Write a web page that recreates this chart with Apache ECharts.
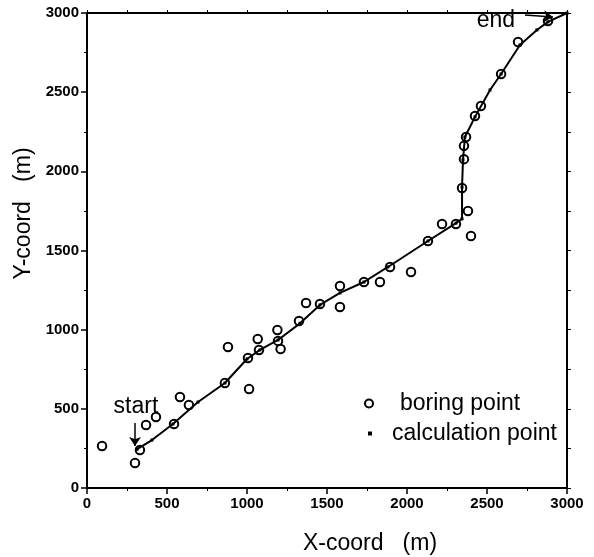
<!DOCTYPE html>
<html>
<head>
<meta charset="utf-8">
<script src="https://cdn.jsdelivr.net/npm/echarts@6/dist/echarts.min.js"></script>
<style>html,body{margin:0;padding:0;background:#fff}#c{width:594px;height:557px}</style>
</head>
<body>
<div id="c"></div>
<script>
// boring points (X, Y in metres)
const boringX = [94, 300, 331, 369, 431, 544, 581, 637, 862, 881, 1006, 1013, 1067, 1075, 1190, 1194, 1210, 1325, 1369, 1456, 1581, 1581, 1731, 1831, 1894, 2025, 2131, 2219, 2306, 2400, 2381, 2344, 2356, 2356, 2369, 2425, 2462, 2588, 2694, 2881];
const boringY = [265, 158, 240, 398, 448, 404, 575, 524, 663, 891, 821, 625, 941, 872, 998, 929, 878, 1055, 1168, 1162, 1276, 1143, 1301, 1301, 1396, 1364, 1560, 1667, 1667, 1592, 1750, 1895, 2077, 2161, 2217, 2350, 2413, 2615, 2817, 2950];
// calculation points (trajectory)
const calcX = [313, 406, 537, 694, 862, 1000, 1081, 1194, 1331, 1456, 1581, 1731, 1881, 2131, 2306, 2344, 2344, 2350, 2362, 2425, 2519, 2588, 2706, 2812, 2881, 3000];
const calcY = [245, 303, 404, 543, 663, 815, 872, 935, 1040, 1156, 1232, 1301, 1396, 1560, 1673, 1700, 1900, 2072, 2217, 2344, 2514, 2615, 2798, 2893, 2944, 3000];
// annotations
const noteText = ['start', 'end'];
const noteX = [306, 2556];
const noteY = [515, 2950];
const arrowFrom = [[300, 410], [2737, 2987]];
const arrowTo = [[300, 265], [2912, 2975]];

const FONT = 'Liberation Sans, Arial, Helvetica, sans-serif';
const chart = echarts.init(document.getElementById('c'));
const axisLine = {show: true, onZero: false, lineStyle: {color: '#000', width: 2}};
const labelStyle = {color: '#000', fontFamily: FONT, fontWeight: 'bold', fontSize: 15, formatter: v => String(v)};

chart.setOption({
  animation: false,
  backgroundColor: '#fff',
  grid: {left: 87, right: 27, top: 13, bottom: 69, containLabel: false, outerBoundsMode: 'none'},
  xAxis: [{
    type: 'value', min: 0, max: 3000, interval: 500, position: 'bottom',
    name: 'X-coord   (m)', nameLocation: 'middle', nameGap: 44,
    nameTextStyle: {color: '#000', fontFamily: FONT, fontSize: 23, padding: [0, 0, 0, 86]},
    axisLine: axisLine,
    axisTick: {show: true, inside: false, length: 6, lineStyle: {color: '#000', width: 1.5}},
    minorTick: {show: true, splitNumber: 2, length: 3, lineStyle: {color: '#000', width: 1}},
    axisLabel: Object.assign({margin: 8}, labelStyle),
    splitLine: {show: false}
  }, {
    type: 'value', min: 0, max: 3000, interval: 250, position: 'top',
    axisLine: axisLine,
    axisTick: {show: true, length: 3, lineStyle: {color: '#000', width: 1}},
    axisLabel: {show: false}, splitLine: {show: false}
  }],
  yAxis: [{
    type: 'value', min: 0, max: 3000, interval: 500, position: 'left',
    name: 'Y-coord   (m)', nameLocation: 'middle', nameGap: 42,
    nameTextStyle: {color: '#000', fontFamily: FONT, fontSize: 23, padding: [0, 0, 0, 74]},
    axisLine: axisLine,
    axisTick: {show: true, length: 6, lineStyle: {color: '#000', width: 1.5}},
    minorTick: {show: true, splitNumber: 2, length: 3, lineStyle: {color: '#000', width: 1}},
    axisLabel: Object.assign({margin: 8}, labelStyle),
    splitLine: {show: false}
  }, {
    type: 'value', min: 0, max: 3000, interval: 250, position: 'right',
    axisLine: axisLine,
    axisTick: {show: true, length: 4, lineStyle: {color: '#000', width: 1}},
    axisLabel: {show: false}, splitLine: {show: false}
  }],
  legend: [{
    data: [{name: 'boring point', icon: 'circle'}],
    left: 359, top: 387, itemWidth: 8, itemHeight: 8,
    itemStyle: {color: '#fff', borderColor: '#000', borderWidth: 2, opacity: 1},
    textStyle: {color: '#000', fontFamily: FONT, fontSize: 23, padding: [0, 0, 0, 22]},
    selectedMode: false
  }, {
    data: [{name: 'calculation point', icon: 'rect'}],
    left: 363, top: 417, itemWidth: 4, itemHeight: 4,
    itemStyle: {color: '#000', borderWidth: 0, opacity: 1},
    textStyle: {color: '#000', fontFamily: FONT, fontSize: 23, padding: [0, 0, 0, 15]},
    selectedMode: false
  }],
  series: [{
    name: 'calculation point', type: 'line',
    data: calcX.map((x, i) => [x, calcY[i]]),
    symbol: 'rect', symbolSize: 3, showSymbol: true,
    lineStyle: {color: '#000', width: 2},
    itemStyle: {color: '#000', opacity: 1}, z: 3
  }, {
    name: 'boring point', type: 'scatter',
    data: boringX.map((x, i) => [x, boringY[i]]),
    symbol: 'circle', symbolSize: 8.5,
    itemStyle: {color: 'rgba(255,255,255,0)', borderColor: '#000', borderWidth: 2, opacity: 1}, z: 4
  }, {
    name: 'notes', type: 'scatter', symbolSize: 0, silent: true,
    itemStyle: {opacity: 1},
    data: noteText.map((t, i) => ({value: [noteX[i], noteY[i]], name: t})),
    label: {show: true, position: 'inside', formatter: p => p.name, color: '#000', fontFamily: FONT, fontSize: 23},
    markLine: {
      silent: true, symbol: ['none', 'arrow'], symbolSize: 9,
      lineStyle: {color: '#000', width: 1.5, type: 'solid', opacity: 1},
      itemStyle: {color: '#000'}, label: {show: false},
      data: arrowFrom.map((f, i) => [{coord: f}, {coord: arrowTo[i]}])
    }
  }]
});
</script>
</body>
</html>
